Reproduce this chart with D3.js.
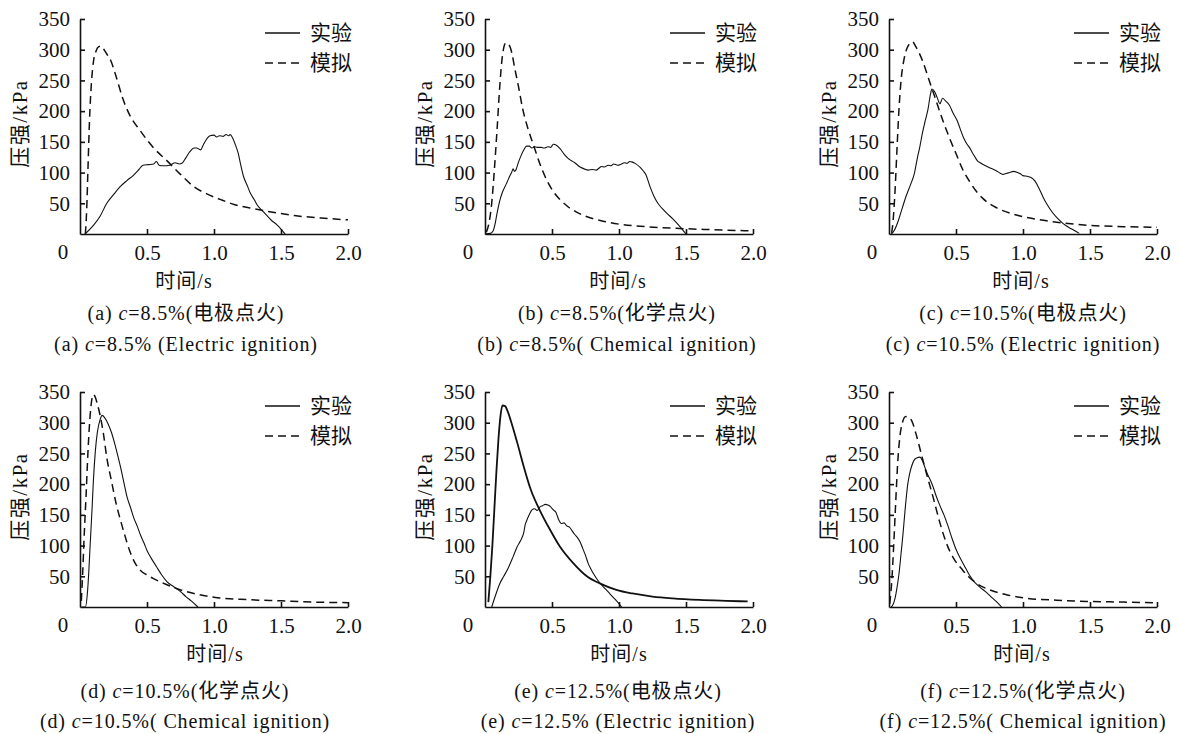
<!DOCTYPE html>
<html>
<head>
<meta charset="utf-8">
<script src="https://cdn.jsdelivr.net/npm/d3@7"></script>
<style>
  body { margin: 0; background: #fff; }
  text { font-family: "Liberation Serif", "Noto Sans CJK SC", serif; fill: #111; }
</style>
</head>
<body>
<div id="chart"></div>
<script>
// panel captions
var capCN = ["(a) |c|=8.5%(电极点火)", "(b) |c|=8.5%(化学点火)", "(c) |c|=10.5%(电极点火)",
             "(d) |c|=10.5%(化学点火)", "(e) |c|=12.5%(电极点火)", "(f) |c|=12.5%(化学点火)"];
var capEN = ["(a) |c|=8.5% (Electric ignition)", "(b) |c|=8.5%( Chemical ignition)", "(c) |c|=10.5% (Electric ignition)",
             "(d) |c|=10.5%( Chemical ignition)", "(e) |c|=12.5% (Electric ignition)", "(f) |c|=12.5%( Chemical ignition)"];
var xTicks = [0.5, 1.0, 1.5, 2.0];
var yTicks = [50, 100, 150, 200, 250, 300, 350];
var legendNames = ["实验", "模拟"];

// experiment (solid) / simulation (dashed): [time s, pressure kPa]
var expA = [[0.037,0],[0.1,14],[0.15,29],[0.2,50],[0.25,64],[0.3,77],[0.35,87],[0.4,96],[0.44,105],[0.47,112],[0.51,113],[0.55,114],[0.57,118],[0.59,112],[0.62,111],[0.67,112],[0.71,116],[0.74,114],[0.76,115],[0.79,124],[0.82,134],[0.85,140],[0.87,140],[0.9,137],[0.92,145],[0.95,156],[0.97,160],[1.0,161],[1.02,158],[1.04,160],[1.07,159],[1.09,162],[1.11,160],[1.12,162],[1.14,156],[1.16,145],[1.18,132],[1.2,112],[1.22,94],[1.25,78],[1.27,67],[1.3,56],[1.32,48],[1.36,38],[1.39,31],[1.43,22],[1.47,15],[1.5,8],[1.53,0]];
var simA = [[0.04,0],[0.05,40],[0.06,110],[0.07,180],[0.085,245],[0.1,280],[0.12,298],[0.14,305],[0.16,306],[0.18,300],[0.2,293],[0.23,282],[0.27,256],[0.32,220],[0.37,194],[0.45,168],[0.55,140],[0.65,119],[0.75,97],[0.85,77],[0.95,65],[1.05,56],[1.15,48],[1.3,41],[1.45,35],[1.6,30],[1.8,26],[2.0,23]];

var expB = [[0,0],[0.04,1],[0.06,5],[0.075,16],[0.09,34],[0.11,54],[0.13,68],[0.16,82],[0.18,92],[0.2,101],[0.21,106],[0.22,102],[0.23,104],[0.25,117],[0.27,128],[0.29,137],[0.31,143],[0.33,143],[0.35,140],[0.37,142],[0.39,141],[0.42,141],[0.44,140],[0.47,142],[0.49,141],[0.51,146],[0.53,145],[0.56,139],[0.59,130],[0.62,123],[0.64,120],[0.67,116],[0.71,109],[0.74,106],[0.77,104],[0.8,105],[0.83,104],[0.85,107],[0.87,110],[0.89,109],[0.92,112],[0.94,111],[0.96,114],[0.99,112],[1.01,113],[1.04,116],[1.06,115],[1.08,118],[1.1,117],[1.12,115],[1.16,108],[1.18,103],[1.2,97],[1.23,78],[1.26,62],[1.29,50],[1.32,42],[1.36,33],[1.4,25],[1.43,18],[1.47,8],[1.5,0]];
var simB = [[0.01,3],[0.03,18],[0.05,50],[0.07,105],[0.09,170],[0.11,240],[0.13,290],[0.155,311],[0.175,309],[0.2,295],[0.22,272],[0.25,240],[0.28,205],[0.32,172],[0.36,146],[0.41,114],[0.46,88],[0.51,69],[0.56,56],[0.61,46],[0.68,36],[0.75,29],[0.86,22],[1.0,16],[1.2,12],[1.45,9],[1.7,7],[2.0,5]];

var expC = [[0.017,0],[0.04,6],[0.07,22],[0.1,43],[0.13,63],[0.16,80],[0.19,99],[0.21,122],[0.23,142],[0.25,165],[0.27,184],[0.29,202],[0.31,228],[0.32,236],[0.34,232],[0.36,222],[0.38,212],[0.4,221],[0.42,217],[0.45,210],[0.48,196],[0.51,184],[0.53,172],[0.56,155],[0.58,147],[0.6,141],[0.62,133],[0.64,126],[0.66,119],[0.68,116],[0.72,111],[0.76,107],[0.8,103],[0.83,99],[0.85,97],[0.88,99],[0.9,100],[0.93,102],[0.96,100],[0.98,98],[1.0,95],[1.03,94],[1.06,92],[1.09,86],[1.12,74],[1.15,60],[1.18,48],[1.22,35],[1.26,25],[1.3,17],[1.34,11],[1.38,6],[1.42,1]];
var simC = [[0.02,2],[0.03,20],[0.045,70],[0.06,140],[0.075,205],[0.09,250],[0.11,282],[0.13,300],[0.155,310],[0.175,313],[0.2,305],[0.25,282],[0.3,250],[0.35,218],[0.4,186],[0.45,157],[0.5,131],[0.55,105],[0.6,86],[0.65,70],[0.7,58],[0.8,43],[0.95,31],[1.1,24],[1.3,18],[1.5,14],[1.75,12],[2.0,11]];

var expD = [[0.012,0],[0.04,0],[0.055,22],[0.065,55],[0.075,98],[0.09,160],[0.1,206],[0.115,255],[0.13,285],[0.15,305],[0.165,312],[0.185,308],[0.21,298],[0.235,284],[0.26,265],[0.28,248],[0.3,230],[0.33,200],[0.35,180],[0.38,160],[0.4,146],[0.43,130],[0.45,118],[0.48,103],[0.5,92],[0.53,80],[0.57,66],[0.61,52],[0.65,41],[0.7,33],[0.75,25],[0.79,17],[0.83,10],[0.88,0]];
var simD = [[0.01,10],[0.02,55],[0.03,110],[0.045,180],[0.06,255],[0.075,310],[0.09,340],[0.1,346],[0.115,341],[0.13,330],[0.15,312],[0.175,282],[0.2,243],[0.235,205],[0.27,168],[0.3,143],[0.33,120],[0.37,92],[0.41,72],[0.45,60],[0.5,52],[0.56,45],[0.64,37],[0.72,30],[0.85,22],[1.0,16],[1.25,12],[1.5,10],[1.75,8],[2.0,7]];

var expE = [[0.05,0],[0.08,20],[0.11,38],[0.14,50],[0.17,62],[0.21,82],[0.24,98],[0.26,106],[0.27,110],[0.29,122],[0.3,134],[0.31,140],[0.33,150],[0.35,158],[0.37,160],[0.39,157],[0.41,163],[0.43,165],[0.45,167],[0.47,166],[0.49,163],[0.51,158],[0.53,154],[0.55,142],[0.57,136],[0.59,137],[0.61,132],[0.63,130],[0.65,124],[0.67,118],[0.69,113],[0.71,106],[0.73,95],[0.75,84],[0.77,71],[0.79,62],[0.81,54],[0.84,44],[0.87,36],[0.9,29],[0.93,22],[0.96,15],[0.99,8],[1.02,0]];
var simE = [[0.025,8],[0.04,50],[0.055,100],[0.07,160],[0.085,220],[0.1,272],[0.115,310],[0.13,328],[0.15,327],[0.17,318],[0.2,298],[0.24,268],[0.29,228],[0.34,192],[0.41,157],[0.49,124],[0.56,98],[0.66,71],[0.76,50],[0.86,38],[0.98,28],[1.1,22],[1.25,17],[1.4,14],[1.6,11.5],[1.8,10],[1.96,9]];

var expF = [[0.017,0],[0.03,4],[0.045,14],[0.06,32],[0.075,55],[0.09,87],[0.105,120],[0.12,158],[0.14,200],[0.155,218],[0.17,230],[0.19,240],[0.21,243],[0.23,244],[0.25,238],[0.27,226],[0.29,215],[0.31,206],[0.33,195],[0.35,182],[0.38,165],[0.41,150],[0.44,132],[0.47,112],[0.5,94],[0.53,80],[0.56,68],[0.6,52],[0.64,40],[0.68,32],[0.72,25],[0.76,17],[0.8,9],[0.84,0]];
var simF = [[0.005,5],[0.02,40],[0.035,100],[0.05,170],[0.065,235],[0.08,275],[0.1,300],[0.125,310],[0.145,309],[0.17,303],[0.2,283],[0.24,250],[0.28,217],[0.33,178],[0.38,137],[0.43,103],[0.48,80],[0.55,60],[0.6,48],[0.65,39],[0.75,28],[0.875,20],[1.0,15],[1.25,11],[1.5,9],[1.75,8],[2.0,7]];

var expSets = [expA, expB, expC, expD, expE, expF];
var simSets = [simA, simB, simC, simD, simE, simF];

var W = 1179, H = 734;
var plotW = 268, plotH = 215;
var colX = [80, 485, 889];
var rowBottom = [234, 607];
var capX = [[186, 617, 1023], [185, 618, 1023]];
var xLabX = [[184, 618, 1021], [215, 619, 1022]];

var svg = d3.select("#chart").append("svg")
    .attr("width", W)
    .attr("height", H);

var x = d3.scaleLinear().domain([0, 2]).range([0, plotW]);
var y = d3.scaleLinear().domain([0, 350]).range([plotH, 0]);

var line = d3.line()
    .x(function(d) { return x(d[0]); })
    .y(function(d) { return y(d[1]); })
    .curve(d3.curveMonotoneX);

function caption(g, str, cx, cy) {
  var parts = str.split("|");
  var t = g.append("text")
      .attr("x", cx).attr("y", cy)
      .attr("text-anchor", "middle")
      .style("font-size", "20px")
      .style("letter-spacing", "0.9px");
  t.append("tspan").text(parts[0]);
  t.append("tspan").style("font-style", "italic").text(parts[1]);
  t.append("tspan").text(parts[2]);
}

function drawPanel(i) {
  var r = Math.floor(i / 3), c = i % 3;
  var px = colX[c], py = rowBottom[r] - plotH;
  var g = svg.append("g").attr("transform", "translate(" + px + "," + py + ")");

  // axes, ticks point inward
  var yAxis = d3.axisLeft(y).tickValues(yTicks).tickSizeInner(-5).tickSizeOuter(0).tickPadding(10);
  var xAxis = d3.axisBottom(x).tickValues(xTicks).tickSizeInner(-5).tickSizeOuter(0).tickPadding(11)
      .tickFormat(d3.format(".1f"));

  var ya = g.append("g").call(yAxis);
  var xa = g.append("g").attr("transform", "translate(0," + plotH + ")").call(xAxis);
  [ya, xa].forEach(function(a) {
    a.attr("font-family", null).attr("font-size", null);
    a.selectAll("path, line").style("stroke", "#111").style("stroke-width", 1.6);
    a.selectAll("text").style("font-size", "21px").style("fill", "#111");
  });
  // origin label
  g.append("text")
      .attr("x", -17).attr("y", plotH + 25)
      .attr("text-anchor", "middle")
      .style("font-size", "21px")
      .text("0");

  // axis titles
  g.append("text")
      .attr("transform", "translate(-60," + (plotH / 2 - 3) + ") rotate(-90)")
      .attr("text-anchor", "middle")
      .attr("dominant-baseline", "central")
      .style("font-size", "21px")
      .style("letter-spacing", "1.5px")
      .text("压强/kPa");
  svg.append("text")
      .attr("x", xLabX[r][c]).attr("y", rowBottom[r] + 54)
      .attr("text-anchor", "middle")
      .style("font-size", "20px")
      .style("letter-spacing", "1px")
      .text("时间/s");

  // curves
  g.append("path").datum(simSets[i])
      .attr("d", line)
      .style("fill", "none").style("stroke", "#111")
      .style("stroke-width", i == 4 ? 1.8 : 1.5)
      .style("stroke-dasharray", i == 4 ? null : "8,5");
  g.append("path").datum(expSets[i])
      .attr("d", line)
      .style("fill", "none").style("stroke", "#111")
      .style("stroke-width", 1.1);

  // legend
  var lg = g.append("g").attr("transform", "translate(185,14)");
  legendNames.forEach(function(name, k) {
    lg.append("line")
        .attr("x1", 0).attr("x2", 35)
        .attr("y1", k * 30).attr("y2", k * 30)
        .style("stroke", "#111").style("stroke-width", 1.5)
        .style("stroke-dasharray", k == 1 ? "8,5" : null);
    lg.append("text")
        .attr("x", 45).attr("y", k * 30)
        .attr("dominant-baseline", "central")
        .style("font-size", "21px")
        .text(name);
  });

  // captions
  caption(svg, capCN[i], capX[r][c], rowBottom[r] + (r == 0 ? 86 : 91));
  caption(svg, capEN[i], capX[r][c], rowBottom[r] + (r == 0 ? 117 : 121));
}

for (var i = 0; i < 6; i++) drawPanel(i);
</script>
</body>
</html>
